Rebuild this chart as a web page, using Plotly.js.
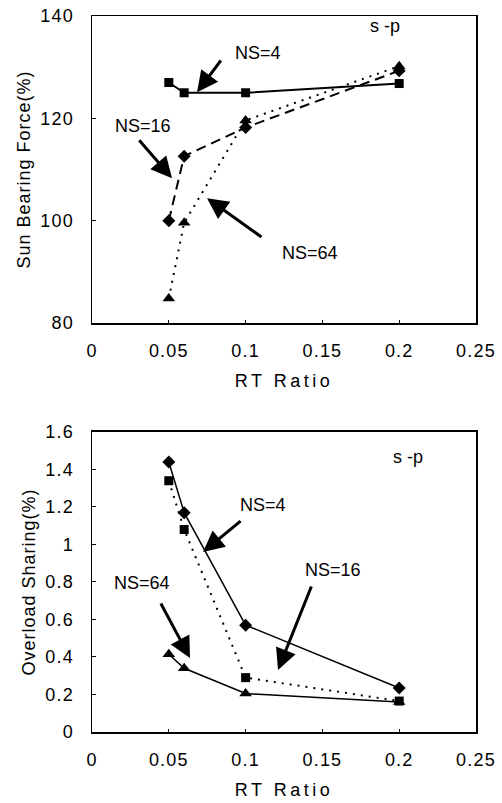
<!DOCTYPE html>
<html>
<head>
<meta charset="utf-8">
<script src="https://cdn.plot.ly/plotly-3.0.1.min.js"></script>
<style>
html,body{margin:0;padding:0;background:#fff;}
#chart{width:502px;height:803px;}
#chart .xtick text, #chart .ytick text, #chart .x2tick text, #chart .y2tick text{letter-spacing:1.2px;}
#chart .g-xtitle text, #chart .g-x2title text{letter-spacing:3.5px;}
#chart .g-ytitle text, #chart .g-y2title text{letter-spacing:1px;}
</style>
</head>
<body>
<div id="chart"></div>
<script>
// ---- data ----
const rtRatio = [0.05, 0.06, 0.1, 0.2];

// Top: Sun Bearing Force (%)
const sunNS4  = [127, 125, 125, 126.8];
const sunNS16 = [100, 112.6, 118.2, 129.3];
const sunNS64 = [84.8, 99.6, 119.6, 130.2];

// Bottom: Overload Sharing (%)
const ovlNS4  = [1.44, 1.17, 0.57, 0.235];
const ovlNS16 = [1.34, 1.08, 0.29, 0.165];
const ovlNS64 = [0.415, 0.34, 0.205, 0.16];

const xTicks = [0, 0.05, 0.1, 0.15, 0.2, 0.25];
const xTickText = ['0', '0.05', '0.1', '0.15', '0.2', '0.25'];
const sunTicks = [80, 100, 120, 140];
const ovlTicks = [0, 0.2, 0.4, 0.6, 0.8, 1, 1.2, 1.4, 1.6];
const ovlTickText = ['0', '0.2', '0.4', '0.6', '0.8', '1', '1.2', '1.4', '1.6'];

const FONT = 'Arial, "Liberation Sans", sans-serif';

const traces = [
  {x: rtRatio, y: sunNS4, xaxis: 'x', yaxis: 'y', mode: 'lines+markers',
   line: {color: '#000', width: 2}, marker: {symbol: 'square', size: 9, color: '#000'}},
  {x: rtRatio, y: sunNS16, xaxis: 'x', yaxis: 'y', mode: 'lines+markers',
   line: {color: '#000', width: 2, dash: '10px,6px'}, marker: {symbol: 'diamond', size: 10, color: '#000'}},
  {x: rtRatio, y: sunNS64, xaxis: 'x', yaxis: 'y', mode: 'lines+markers',
   line: {color: '#000', width: 2, dash: '2px,6px'}, marker: {symbol: 'triangle-up', size: 11, color: '#000'}},

  {x: rtRatio, y: ovlNS4, xaxis: 'x2', yaxis: 'y2', mode: 'lines+markers',
   line: {color: '#000', width: 1.5}, marker: {symbol: 'diamond', size: 10, color: '#000'}},
  {x: rtRatio, y: ovlNS16, xaxis: 'x2', yaxis: 'y2', mode: 'lines+markers',
   line: {color: '#000', width: 2, dash: '2px,6px'}, marker: {symbol: 'square', size: 9, color: '#000'}},
  {x: rtRatio, y: ovlNS64, xaxis: 'x2', yaxis: 'y2', mode: 'lines+markers',
   line: {color: '#000', width: 1.5}, marker: {symbol: 'triangle-up', size: 11, color: '#000'}}
];

function xAxis(anchor) {
  return {
    anchor: anchor, domain: [0, 1], range: [0, 0.25],
    tickvals: xTicks, ticktext: xTickText,
    ticks: 'inside', ticklen: 3, tickcolor: '#000',
    showline: true, linecolor: '#000', linewidth: 1.5, mirror: true,
    showgrid: false, zeroline: false,
    tickfont: {family: FONT, size: 18, color: '#000'},
    ticklabelstandoff: 11,
    title: {text: 'RT Ratio', font: {family: FONT, size: 18, color: '#000'}, standoff: 14}
  };
}

function yAxis(anchor, domain, range, tv, tt, title) {
  return {
    anchor: anchor, domain: domain, range: range,
    tickvals: tv, ticktext: tt,
    ticks: 'inside', ticklen: 4, tickcolor: '#000',
    showline: true, linecolor: '#000', linewidth: 1.5, mirror: true,
    showgrid: false, zeroline: false,
    tickfont: {family: FONT, size: 18, color: '#000'},
    ticklabelstandoff: 13,
    title: {text: title, font: {family: FONT, size: 18, color: '#000'}, standoff: 8}
  };
}

function label(text, x, y, xr, yr) {
  return {text: text, x: x, y: y, xref: xr, yref: yr, showarrow: false,
          font: {family: FONT, size: 18, color: '#000'}};
}
function arrow(hx, hy, tx, ty, xr, yr) {
  return {text: '', x: hx, y: hy, ax: tx, ay: ty, xref: xr, yref: yr, axref: xr, ayref: yr,
          showarrow: true, arrowhead: 2, arrowsize: 1.4, arrowwidth: 3, arrowcolor: '#000'};
}

const annotations = [
  label('NS=4', 0.108, 132.8, 'x', 'y'),
  arrow(0.0684, 125.1, 0.0846, 131.6, 'x', 'y'),
  label('s -p', 0.1908, 138.0, 'x', 'y'),
  label('NS=16', 0.0332, 118.5, 'x', 'y'),
  arrow(0.0521, 108.3, 0.0299, 116.0, 'x', 'y'),
  label('NS=64', 0.1419, 93.7, 'x', 'y'),
  arrow(0.0749, 104.4, 0.1113, 96.6, 'x', 'y'),

  label('s -p', 0.2057, 1.467, 'x2', 'y2'),
  label('NS=4', 0.1113, 1.211, 'x2', 'y2'),
  arrow(0.0723, 0.96, 0.0977, 1.131, 'x2', 'y2'),
  label('NS=16', 0.1569, 0.864, 'x2', 'y2'),
  arrow(0.1211, 0.331, 0.1432, 0.784, 'x2', 'y2'),
  label('NS=64', 0.0326, 0.795, 'x2', 'y2'),
  arrow(0.0638, 0.395, 0.0443, 0.693, 'x2', 'y2')
];

const layout = {
  width: 502, height: 803,
  margin: {l: 92, r: 26, t: 16, b: 71},
  paper_bgcolor: '#fff', plot_bgcolor: '#fff',
  showlegend: false,
  xaxis: xAxis('y'),
  yaxis: yAxis('x', [0.5712, 1], [80, 140], sunTicks, sunTicks.map(String), 'Sun Bearing Force(%)'),
  xaxis2: xAxis('y2'),
  yaxis2: yAxis('x2', [0, 0.419], [0, 1.6], ovlTicks, ovlTickText, 'Overload Sharing(%)'),
  annotations: annotations
};

Plotly.newPlot('chart', traces, layout, {staticPlot: true, displayModeBar: false});
</script>
</body>
</html>
